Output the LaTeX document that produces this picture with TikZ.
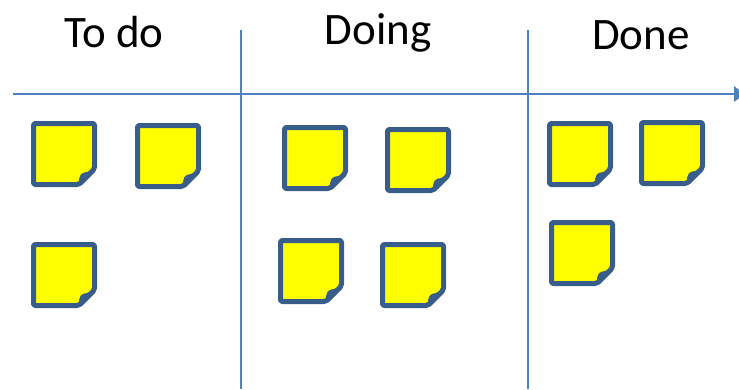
\documentclass[tikz,border=0pt]{standalone}
\usepackage{fontspec}
\setmainfont{Carlito}
\usetikzlibrary{arrows.meta}
\definecolor{laneblue}{RGB}{79,129,189}
\definecolor{noteblue}{RGB}{56,93,138}
\definecolor{noteyellow}{RGB}{255,255,0}
\tikzset{
	lane/.style={draw=laneblue, line width=1.8pt},
	title/.style={anchor=base, font=\fontsize{45}{50}\selectfont},
}
\begin{document}
\begin{tikzpicture}[x=1pt, y=-1pt, line join=round, line cap=butt]
	\useasboundingbox (0,0) rectangle (739,389);
	\def\sticky#1#2{
		\begin{scope}[shift={(#1,#2)}]
			\filldraw[fill=noteyellow, draw=noteblue, line width=5pt, rounded corners=2pt] (2.5,2.5) -- (63.5,2.5) -- (63.5,48) -- (48,63.5) -- (2.5,63.5) -- cycle;
			\fill[noteblue] (48,63.5) .. controls (47.5,54) and (50,51.5) .. (56,51) -- (63.5,48) -- cycle;
		\end{scope}
	}

	\node[title] (todo) at (114,47) {To do};
	\node[title] (doing) at (378,44) {Doing};
	\node[title] (done) at (641,49) {Done};

	\coordinate (axisL) at (13,94);
	\coordinate (axisR) at (745,94);
	\coordinate (lineAtop) at (241,30);
	\coordinate (lineAbot) at (241,389);
	\coordinate (lineBtop) at (528,30);
	\coordinate (lineBbot) at (528,389);

	\draw[lane] (lineAtop) -- (lineAbot);
	\draw[lane] (lineBtop) -- (lineBbot);
	\draw[lane, line width=2.6pt, -{Triangle[length=11pt, width=15pt]}] (axisL) -- (axisR);

	\sticky{31}{121}
	\sticky{135}{123}
	\sticky{31}{242}

	\sticky{282}{125}
	\sticky{385}{127}
	\sticky{278}{238}
	\sticky{380}{242}

	\sticky{547}{121}
	\sticky{639}{120}
	\sticky{549}{220}
\end{tikzpicture}
\end{document}
